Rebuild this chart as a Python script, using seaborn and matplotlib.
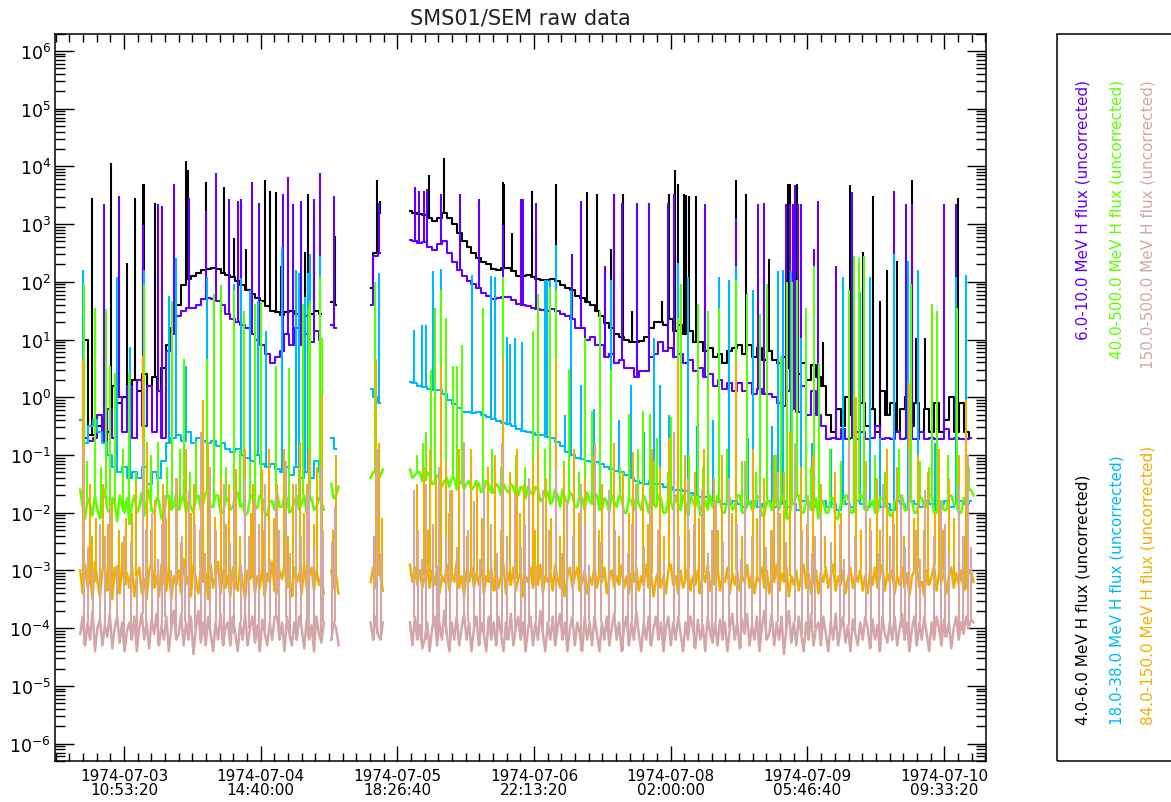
import numpy as np
import pandas as pd
import matplotlib
matplotlib.use("Agg")
import matplotlib.pyplot as plt
import seaborn as sns
from matplotlib.patches import Rectangle
from matplotlib.ticker import FixedLocator, LogLocator, NullFormatter

nan = float("nan")
GAP10, GAP12 = [nan] * 10, [nan] * 12

# ---------------------------------------------------------------- data
# time axis: hours after 1974-07-03 00:00 UT; values are log10(flux); nan = gap
START_HOUR = 2.0
STEP_SLOW = 1.0    # 4-6, 6-10, 18-38 MeV channels: hourly samples
STEP_FAST = 0.5    # 40-500, 84-150, 150-500 MeV channels: half-hourly samples

FLUX_4_6 = [
    nan, 1.0, -0.65, -0.65, -0.5, -0.4, -0.6, 0.2, -0.1, 0.0,
    -0.2, 0.3, 0.1, 0.4, 0.2, 0.35, 0.1, 0.5, 0.9, 1.2,
    1.6, 1.95, 2.05, 2.1, 2.15, 2.2, 2.22, 2.24, 2.22, 2.15,
    2.12, 2.08, 2.02, 1.95, 1.86, 1.78, 1.72, 1.67, 1.58, 1.5,
    1.47, 1.42, 1.47, 1.5, 1.45, 1.38, 1.4, 1.45, 1.5, 1.45,
    nan, 1.65, 1.6, nan, nan, nan, nan, nan, nan, 1.9,
    2.5, 3.2, nan, nan, nan, nan, nan, 3.22, 3.2, 3.18,
    3.15, 3.1, 3.05, 3.1, 3.2, 3.1, 3.0, 2.85, 2.7, 2.6,
    2.5, 2.42, 2.35, 2.3, 2.22, 2.2, 2.24, 2.24, 2.18, 2.1,
    2.1, 2.12, 2.08, 2.05, 2.03, 2.03, 2.05, 2.02, 1.95, 1.9,
    1.85, 1.75, 1.72, 1.65, 1.6, 1.5, 1.4, 1.28, 1.2, 1.1,
    1.05, 1.0, 0.95, 0.95, 0.98, 1.05, 1.2, 1.3, 1.3, 1.25,
    1.35, 1.15, 1.25, 1.1, 1.15, 0.95, 0.95, 0.8, 0.85, 0.7,
    0.75, 0.6, 0.8, 0.85, 0.9, 0.75, 0.9, 0.7, 0.85, 0.65,
    0.8, 0.65, 0.6, 0.7, 0.5, 0.65, 0.4, 0.6, 0.3, 0.55,
    0.35, 0.2, -0.3, -0.6, -0.2, -0.5, 0.0, -0.3, -0.6, -0.1,
    -0.5, -0.2, -0.6, 0.1, -0.3, -0.1, -0.6, -0.2, 0.0, -0.5,
    -0.1, -0.6, -0.2, -0.6, -0.1, -0.6, -0.4, 0.0, -0.6, -0.1,
    -0.6, -0.7,
]
FLUX_6_10 = [
    -0.4, -0.7, -0.75, -0.7, -0.3, -0.75, -0.2, -0.7, 0.0, -0.6,
    0.2, -0.7, 0.3, -0.5, 0.2, -0.6, 0.1, -0.7, 0.8, 1.1,
    1.4, 1.5, 1.55, 1.55, 1.6, 1.7, 1.72, 1.7, 1.67, 1.6,
    1.45, 1.35, 1.3, 1.25, 1.2, 1.1, 1.0, 0.9, 0.75, 0.6,
    0.7, 0.8, 1.1, 0.9, 1.2, 0.9, 1.1, 0.95, 1.15, 1.0,
    nan, 1.25, 1.2, nan, nan, nan, nan, nan, nan, 1.6,
    2.45, 2.5, nan, nan, nan, nan, nan, 2.72, 2.7, 2.68,
    2.69, 2.6, 2.55, 2.65, 2.7, 2.5, 2.35, 2.2, 2.1, 2.02,
    1.97, 1.9, 1.8, 1.75, 1.7, 1.72, 1.73, 1.73, 1.68, 1.62,
    1.6, 1.58, 1.55, 1.53, 1.52, 1.5, 1.53, 1.5, 1.45, 1.4,
    1.35, 1.2, 1.2, 1.0, 1.05, 0.9, 0.9, 0.7, 0.75, 0.6,
    0.65, 0.5, 0.5, 0.35, 0.45, 0.45, 0.7, 0.75, 0.95, 0.8,
    0.85, 0.7, 0.75, 0.6, 0.65, 0.45, 0.5, 0.35, 0.4, 0.2,
    0.3, 0.15, 0.25, 0.1, 0.25, 0.1, 0.25, 0.05, 0.15, 0.05,
    0.05, 0.0, -0.1, -0.15, 0.1, -0.2, -0.25, 0.2, -0.3, 0.1,
    -0.3, -0.5, -0.72, -0.7, -0.72, -0.55, -0.72, -0.7, -0.72, -0.6,
    -0.72, -0.7, -0.5, -0.72, -0.7, -0.72, -0.6, -0.72, -0.7, -0.72,
    -0.72, -0.6, -0.72, -0.7, -0.72, -0.72, -0.55, -0.72, -0.7, -0.72,
    -0.72, -0.7,
]
FLUX_18_38 = [
    -0.4, -0.8, -0.5, -0.4, -0.6, -0.8, -1.0, -1.2, -1.3, -1.2,
    -1.4, -1.3, -1.4, -1.2, -1.5, -1.3, -1.4, -1.1, -0.8, -0.7,
    -0.65, -0.75, -0.6, -0.8, -0.7, -0.75, -0.8, -0.75, -0.85, -0.8,
    -0.9, -0.95, -0.9, -1.0, -1.05, -1.1, -1.0, -1.15, -1.2, -1.15,
    -1.25, -1.3, -1.2, -1.35, -1.2, -1.4, -1.3, -1.4, -1.1, -1.3,
    nan, -0.7, -0.9, nan, nan, nan, nan, nan, nan, 0.15,
    0.0, -0.1, nan, nan, nan, nan, nan, 0.27, 0.25, 0.2,
    0.18, 0.15, 0.12, 0.12, 0.05, -0.05, -0.12, -0.18, -0.25, -0.26,
    -0.27, -0.26, -0.3, -0.35, -0.38, -0.42, -0.45, -0.47, -0.5, -0.55,
    -0.58, -0.6, -0.62, -0.65, -0.66, -0.68, -0.7, -0.77, -0.85, -0.95,
    -1.0, -1.05, -1.07, -1.1, -1.12, -1.13, -1.15, -1.2, -1.25, -1.28,
    -1.3, -1.35, -1.4, -1.45, -1.48, -1.5, -1.45, -1.5, -1.5, -1.55,
    -1.55, -1.6, -1.6, -1.62, -1.65, -1.7, -1.72, -1.72, -1.75, -1.8,
    -1.82, -1.85, -1.85, -1.8, -1.85, -1.9, -1.85, -1.8, -1.9, -1.85,
    -1.8, -1.9, -1.85, -1.8, -1.9, -1.85, -1.95, -1.8, -1.85, -1.9,
    -1.85, -1.8, -1.9, -1.85, -1.95, -1.8, -1.85, -1.9, -1.8, -1.85,
    -1.9, -1.85, -1.8, -1.9, -1.85, -1.95, -1.8, -1.85, -1.9, -1.8,
    -1.85, -1.9, -1.8, -1.85, -1.95, -1.85, -1.8, -1.9, -1.85, -1.8,
    -1.85, -1.8,
]
FLUX_40_500 = [
    -1.6, -1.9, -2.1, -1.75, -1.85, -2.05, -1.7, -1.95, -2.1, -1.8, -1.6, -1.95, -2.0, -1.75, -1.85, -2.15, -1.7, -1.9, -2.0, -1.75,
    -2.2, -1.85, -1.7, -2.0, -1.9, -1.65, -2.05, -1.8, -1.6, -1.95, -2.0, -1.75, -1.8, -2.1, -2.05, -1.75, -1.7, -1.95, -1.9, -1.65,
    -1.95, -1.8, -1.7, -2.0, -1.8, -1.9, -2.0, -1.75, -1.7, -1.95, -1.85, -1.65, -1.6, -1.9, -1.9, -1.7, -1.7, -2.0, -2.0, -1.8,
    -1.75, -1.95, -1.9, -1.7, -1.65, -1.9, -1.85, -2.05, -2.0, -1.75, -1.7, -1.95, -1.9, -1.7, -1.75, -2.0, -2.05, -1.8, -1.8, -1.95,
    -1.65, -1.9, -1.9, -1.7, -1.75, -2.0, -1.95, -1.8, -1.7, -1.95, -1.85, -1.7, -2.0, -1.8, -1.75, -1.95, -1.9, -1.75, -1.8, -1.95,
    nan, nan, -1.5, -1.75, -1.7, -1.55, *GAP12, -1.4, -1.3,
    -1.3, -1.45, -1.35, -1.25, *GAP10, -1.25, -1.4, -1.35, -1.3, -1.3, -1.45,
    -1.45, -1.3, -1.35, -1.5, -1.5, -1.35, -1.4, -1.55, -1.45, -1.4, -1.55, -1.4, -1.4, -1.6, -1.5, -1.45, -1.6, -1.5, -1.45, -1.6,
    -1.55, -1.45, -1.5, -1.65, -1.6, -1.45, -1.5, -1.65, -1.65, -1.5, -1.55, -1.7, -1.5, -1.6, -1.65, -1.5, -1.55, -1.7, -1.7, -1.55,
    -1.6, -1.75, -1.55, -1.65, -1.7, -1.55, -1.6, -1.8, -1.75, -1.6, -1.65, -1.85, -1.8, -1.6, -1.7, -1.9, -1.6, -1.75, -1.85, -1.65,
    -1.7, -1.9, -1.9, -1.7, -1.75, -1.95, -1.65, -1.8, -1.85, -1.65, -1.7, -1.95, -1.95, -1.75, -1.8, -2.0, -1.7, -1.8, -1.9, -1.7,
    -1.75, -2.0, -2.0, -1.75, -1.8, -1.95, -1.7, -1.85, -1.95, -1.7, -1.8, -2.0, -1.7, -1.85, -1.9, -1.7, -1.75, -2.0, -2.0, -1.75,
    -1.8, -1.95, -1.7, -1.85, -1.95, -1.7, -1.85, -2.05, -1.7, -1.8, -1.9, -1.7, -2.05, -1.8, -1.8, -1.95, -1.7, -1.9, -1.95, -1.7,
    -1.8, -2.0, -2.0, -1.75, -1.75, -1.95, -1.9, -1.7, -1.7, -2.0, -2.0, -1.8, -1.8, -1.95, -1.9, -1.7, -1.75, -2.05, -2.05, -1.8,
    -1.8, -1.95, -1.7, -1.85, -1.95, -1.7, -1.8, -2.1, -2.1, -1.85, -1.85, -1.7, -1.7, -2.0, -2.0, -1.8, -1.8, -1.95, -1.95, -1.75,
    -2.1, -1.85, -1.8, -2.0, -2.0, -1.75, -1.75, -2.1, -2.1, -1.85, -1.85, -1.7, -1.7, -2.0, -2.0, -1.8, -1.8, -1.7, -1.7, -1.95,
    -1.95, -1.8, -1.8, -2.0, -2.0, -1.75, -1.75, -1.9, -1.9, -2.05, -2.05, -1.8, -1.8, -1.7, -1.7, -1.95, -1.95, -1.8, -1.8, -2.0,
    -2.0, -1.75, -1.75, -1.9, -1.9, -1.7, -1.7, -2.0, -2.0, -1.8, -1.8, -1.95, -1.95, -1.7, -1.7, -1.85, -1.85, -2.0, -2.0, -1.75,
    -1.75, -1.6, -1.6, -1.7,
]
FLUX_84_150 = [
    -3.0, -3.4, -2.9, -3.3, -3.1, -3.5, -2.85, -3.2, -3.45, -3.0, -2.9, -3.35, -3.1, -3.5, -2.95, -3.2, -3.4, -2.9, -3.25, -3.05,
    -3.3, -2.9, -3.45, -3.1, -2.95, -3.4, -3.15, -3.5, -3.0, -2.85, -3.3, -3.1, -3.45, -2.9, -3.2, -3.35, -2.95, -3.5, -3.1, -3.25,
    -3.0, -3.4, -2.8, -3.25, -3.1, -3.45, -2.9, -3.15, -3.4, -2.95, -3.2, -3.05, -3.5, -2.9, -3.3, -3.1, -2.85, -3.4, -3.0, -3.3,
    -3.1, -3.45, -2.95, -3.25, -3.35, -2.9, -3.2, -3.5, -3.0, -3.15, -2.9, -3.4, -3.1, -3.3, -2.95, -3.45, -3.05, -3.2, -2.85, -3.35,
    -3.4, -3.0, -3.15, -2.9, -3.3, -3.1, -3.45, -2.95, -3.2, -3.05, -3.4, -2.9, -3.3, -3.1, -2.95, -3.35, -3.0, -3.25, -3.1, -3.4,
    nan, nan, -3.0, -3.3, -3.1, -3.4, *GAP12, -3.2, -2.95,
    -3.3, -2.9, -3.1, -3.35, *GAP10, -2.9, -3.2, -2.95, -3.25, -3.0, -3.3,
    -3.1, -2.9, -3.3, -3.0, -3.25, -2.95, -3.4, -3.1, -3.2, -2.9, -3.35, -3.05, -3.2, -2.85, -3.3, -3.1, -3.45, -3.0, -3.2, -2.95,
    -3.3, -3.05, -3.25, -2.9, -3.4, -3.1, -3.2, -2.95, -3.35, -3.0, -3.3, -3.1, -2.9, -3.4, -3.05, -3.25, -2.95, -3.35, -3.15, -3.0,
    -3.45, -3.1, -3.2, -2.95, -3.3, -3.05, -3.25, -2.9, -3.4, -3.1, -3.2, -3.0, -3.35, -2.9, -3.15, -3.3, -3.0, -3.45, -3.1, -2.95,
    -3.3, -3.1, -2.95, -3.35, -3.2, -3.0, -3.4, -3.1, -3.25, -2.9, -3.3, -3.05, -3.2, -2.95, -3.4, -3.15, -3.0, -3.3, -3.1, -3.25,
    -2.9, -3.3, -3.1, -3.4, -3.05, -3.2, -2.95, -3.35, -3.1, -3.25, -2.9, -3.3, -3.05, -3.45, -3.15, -3.0, -3.3, -3.1, -3.4, -3.0,
    -2.9, -3.25, -3.1, -3.4, -3.0, -3.3, -3.15, -2.95, -3.35, -3.1, -3.25, -3.0, -3.4, -3.05, -3.2, -2.9, -3.35, -3.1, -3.25, -2.95,
    -3.35, -3.1, -3.2, -2.95, -3.4, -3.05, -3.25, -3.0, -3.35, -3.1, -3.2, -2.9, -3.3, -3.05, -3.4, -3.1, -3.2, -2.95, -3.3, -3.0,
    -3.4, -3.1, -3.2, -2.9, -3.35, -3.05, -3.2, -2.95, -3.45, -3.1, -3.25, -3.0, -3.35, -3.1, -2.9, -3.3, -3.05, -3.4, -3.15, -3.0,
    -3.4, -3.05, -3.2, -2.95, -3.3, -3.1, -2.9, -3.35, -3.1, -3.25, -3.0, -3.4, -3.15, -2.95, -3.3, -3.05, -3.2, -3.0, -3.35, -3.1,
    -3.4, -3.0, -3.25, -2.95, -3.3, -3.1, -2.9, -3.35, -3.05, -3.2, -3.0, -3.4, -3.1, -3.25, -2.95, -3.3, -3.05, -3.45, -3.1, -3.0,
    -2.95, -3.3, -3.2, -3.45, -3.0, -3.25, -3.1, -2.9, -3.35, -3.05, -3.2, -3.0, -3.4, -3.1, -2.95, -3.3, -3.05, -3.25, -3.0, -3.35,
    -3.3, -3.05, -3.0, -3.2,
]
FLUX_150_500 = [
    -4.1, -3.8, -4.3, -3.9, -4.2, -3.7, -4.4, -4.0, -3.85, -4.3, -3.95, -4.15, -3.75, -4.35, -4.0, -3.8, -4.25, -3.9, -4.4, -4.05,
    -3.9, -4.2, -3.8, -4.4, -4.0, -3.75, -4.2, -3.9, -4.35, -3.85, -4.1, -3.75, -4.3, -3.95, -4.2, -3.8, -4.4, -4.0, -3.7, -4.2,
    -4.1, -3.75, -4.3, -3.9, -4.2, -3.8, -4.45, -4.0, -3.7, -4.25, -3.9, -4.3, -3.8, -4.1, -4.4, -3.9, -4.2, -3.75, -4.3, -4.0,
    -3.9, -4.3, -3.8, -4.1, -4.4, -3.9, -4.2, -3.75, -4.3, -4.0, -3.8, -4.25, -3.95, -4.4, -3.85, -4.1, -4.3, -3.9, -4.2, -3.8,
    -3.8, -4.2, -3.9, -4.4, -3.8, -4.1, -4.3, -3.9, -4.2, -3.8, -4.0, -4.35, -3.85, -4.2, -3.95, -4.4, -3.8, -4.1, -4.25, -3.9,
    nan, nan, -4.2, -3.9, -4.0, -4.3, *GAP12, -3.9, -4.2,
    -3.8, -4.1, -4.2, -3.9, *GAP10, -3.9, -4.3, -3.8, -4.2, -3.95, -4.35,
    -4.2, -3.9, -4.4, -4.0, -3.8, -4.3, -3.9, -4.2, -3.7, -4.1, -4.4, -3.9, -4.2, -3.8, -4.3, -4.0, -3.75, -4.2, -3.9, -4.4,
    -4.0, -3.8, -4.3, -3.9, -4.1, -4.4, -3.8, -4.2, -3.9, -4.3, -3.8, -4.1, -4.4, -3.9, -4.2, -3.75, -4.3, -4.0, -3.8, -4.2,
    -3.9, -4.4, -4.0, -3.8, -4.3, -3.9, -4.2, -3.7, -4.1, -4.4, -3.9, -4.2, -3.8, -4.3, -4.0, -3.75, -4.2, -3.9, -4.4, -4.0,
    -3.8, -4.3, -3.9, -4.1, -4.4, -3.8, -4.2, -3.9, -4.3, -3.8, -4.1, -4.4, -3.9, -4.2, -3.8, -4.3, -4.0, -3.75, -4.2, -3.9,
    -4.4, -4.0, -3.8, -4.3, -3.9, -4.2, -3.7, -4.1, -4.4, -3.9, -4.2, -3.8, -4.3, -4.0, -3.8, -4.2, -3.9, -4.4, -4.0, -3.8,
    -4.3, -3.9, -4.2, -3.8, -4.1, -4.4, -3.9, -4.2, -3.8, -4.0, -4.35, -3.85, -4.2, -3.95, -4.4, -3.8, -4.1, -4.25, -3.9, -4.3,
    -3.85, -4.2, -3.9, -4.4, -4.0, -3.75, -4.2, -3.9, -4.35, -3.85, -4.1, -3.75, -4.3, -3.95, -4.2, -3.8, -4.4, -4.0, -3.7, -4.2,
    -4.1, -3.75, -4.3, -3.9, -4.2, -3.8, -4.45, -4.0, -3.7, -4.25, -3.9, -4.3, -3.8, -4.1, -4.4, -3.9, -4.2, -3.75, -4.3, -4.0,
    -3.9, -4.3, -3.8, -4.1, -4.4, -3.9, -4.2, -3.75, -4.3, -4.0, -3.8, -4.25, -3.95, -4.4, -3.85, -4.1, -4.3, -3.9, -4.2, -3.8,
    -4.0, -4.35, -3.85, -4.2, -3.95, -4.4, -3.8, -4.1, -4.25, -3.9, -4.2, -3.8, -4.3, -4.0, -3.75, -4.2, -3.9, -4.4, -4.0, -3.8,
    -4.3, -3.9, -4.2, -3.8, -4.1, -4.4, -3.9, -4.2, -3.8, -4.0, -4.3, -3.85, -4.15, -3.9, -4.35, -4.0, -3.8, -4.2, -3.9, -4.1,
    -3.8, -4.0, -3.85, -3.9,
]

# short spikes: (hour, log10 of spike top)
SPIKES_4_6 = [
    (4.4, 3.46), (8.3, 4.06), (11.6, 2.33), (13.1, 3.46), (14.7, 3.7), (14.9, 3.7),
    (17.2, 3.37), (23.5, 4.09), (23.8, 3.94), (27.5, 3.73), (31.2, 3.64), (33.3, 2.75),
    (35.7, 2.57), (39.6, 3.76), (40.6, 3.57), (41.7, 3.55), (42.7, 2.27), (47.6, 2.51),
    (48.3, 3.52), (49.5, 3.1), (53.7, 2.8), (62.4, 3.76), (63.0, 3.4), (72.8, 3.85),
    (75.9, 4.15), (88.0, 3.73), (88.2, 3.7), (89.7, 2.84), (93.8, 3.58), (94.6, 2.8),
    (98.6, 3.7), (104.9, 3.55), (107.0, 3.52), (109.8, 2.57), (110.5, 3.52), (112.2, 3.52),
    (114.2, 1.5), (120.3, 1.67), (121.7, 3.52), (122.9, 3.93), (123.4, 3.7), (124.7, 3.52),
    (125.0, 3.5), (125.7, 3.49), (127.1, 3.49), (135.3, 3.76), (137.3, 3.52), (142.0, 2.39),
    (145.9, 3.7), (146.3, 3.7), (147.6, 3.7), (152.9, 0.96), (158.5, 3.67), (161.0, 2.51),
    (163.0, 3.49), (164.5, 1.67), (165.9, 2.21), (167.9, 2.36), (171.1, 3.76), (171.8, 1.03),
    (173.6, 1.02), (180.4, 3.46),
]
SPIKES_6_10 = [
    (6.9, 3.34), (9.8, 3.49), (14.7, 2.99), (17.9, 3.34), (18.7, 3.31), (21.0, 3.7),
    (24.2, 3.46), (27.5, 3.22), (29.5, 3.88), (32.2, 3.43), (34.0, 3.4), (34.7, 3.43),
    (36.9, 3.73), (38.4, 3.37), (43.1, 3.52), (44.3, 3.82), (45.2, 3.34), (46.9, 3.4),
    (49.5, 3.43), (50.7, 3.88), (53.5, 3.49), (62.8, 3.37), (70.0, 3.64), (70.8, 3.58),
    (71.9, 3.58), (72.4, 3.61), (75.4, 3.52), (79.1, 3.52), (83.1, 3.43), (88.0, 2.99),
    (91.5, 3.43), (92.0, 3.43), (94.6, 3.37), (101.9, 2.48), (103.7, 3.4), (108.7, 2.27),
    (110.5, 3.52), (112.1, 3.37), (115.2, 3.37), (117.5, 3.37), (121.5, 3.37), (122.7, 3.52),
    (128.9, 3.34), (135.2, 3.1), (139.7, 3.34), (140.9, 3.37), (145.5, 3.34), (146.2, 3.34),
    (146.8, 3.34), (147.2, 3.67), (147.8, 3.34), (148.4, 3.34), (151.0, 2.57), (151.9, 3.4),
    (155.5, 2.27), (158.9, 3.55), (167.3, 3.58), (169.7, 3.34), (171.1, 3.34), (172.2, 2.21),
    (177.5, 3.34), (180.0, 3.34),
]
SPIKES_18_38 = [
    (2.6, 2.2), (9.5, 2.09), (12.1, 0.87), (14.9, 2.21), (20.0, 1.76), (21.5, 2.42),
    (23.5, 0.54), (27.7, 2.09), (33.3, 1.97), (34.7, 2.06), (36.4, 1.85), (38.2, 1.67),
    (39.7, 1.14), (42.9, 2.6), (45.9, 2.21), (46.5, 2.15), (47.7, 1.73), (48.3, 2.15),
    (48.7, 2.48), (50.7, 2.45), (62.8, 2.15), (69.8, 1.17), (71.5, 1.26), (72.2, 1.26),
    (73.6, 2.18), (75.4, 2.22), (78.5, 0.21), (81.7, 2.12), (85.5, 2.1), (86.2, 2.09),
    (88.7, 1.05), (89.4, 0.93), (90.4, 1.03), (91.8, 0.96), (96.4, 2.03), (96.9, 2.03),
    (97.4, 2.03), (98.6, 2.63), (101.7, 1.85), (103.8, 0.21), (109.8, 2.03), (114.0, 0.21),
    (118.5, 1.02), (119.9, 0.21), (123.4, 2.33), (125.5, 2.09), (131.7, 2.09), (133.8, 2.03),
    (135.3, 2.27), (138.8, 1.85), (140.2, 0.66), (143.7, 2.18), (144.9, 2.21), (146.5, 2.18),
    (148.4, 1.02), (156.9, 2.09), (160.4, 1.82), (162.4, 2.09), (167.3, 2.48), (170.2, 2.36),
    (172.2, 2.21), (179.9, 2.09), (182.0, 2.12),
    (100.6, -0.3), (104.6, -0.5), (106.4, -0.2), (111.4, -0.4), (116.6, -0.6), (121.6, -0.3),
    (127.4, -0.5), (130.6, -0.4), (137.6, -0.7), (142.6, -0.5), (150.6, -0.8), (154.6, -0.9),
    (164.6, -0.7), (175.6, -0.8),
]
SPIKES_40_500 = [
    (2.7, 1.97), (4.9, 1.55), (7.2, 1.53), (8.1, 0.54), (9.1, 0.42), (11.9, 0.42),
    (14.9, 1.97), (17.9, -0.77), (20.7, 1.67), (23.1, 0.66), (25.6, -0.77), (27.7, 0.66),
    (29.1, 1.79), (30.5, 1.94), (33.3, 1.85), (35.2, 1.5), (37.5, 1.61), (38.7, 1.67),
    (41.7, 0.54), (44.5, 0.51), (47.3, 1.61), (48.4, 1.55), (48.7, 1.67), (50.7, 2.09),
    (51.2, 1.02), (61.9, 2.0), (72.2, -0.6), (73.3, 0.48), (74.0, 1.55), (75.4, 1.85),
    (76.4, 1.37), (77.8, 0.54), (78.5, 0.54), (79.6, 0.9), (83.8, 1.55), (88.0, 2.09),
    (93.9, 1.14), (95.0, 1.79), (97.4, 1.91), (98.6, 1.85), (101.4, 0.48), (104.5, 1.02),
    (105.9, -0.23), (107.7, 1.5), (109.8, 0.48), (113.6, -0.29), (116.4, -0.23), (117.7, -0.29),
    (119.2, -0.71), (122.0, -0.35), (123.4, 1.37), (124.1, 1.97), (127.6, 1.61), (129.6, 1.5),
    (131.8, 1.55), (135.3, 2.03), (137.4, 1.79), (140.2, 1.44), (141.6, 1.97), (144.4, 0.72),
    (145.6, 2.0), (146.6, 2.0), (147.6, 2.03), (149.4, 1.55), (151.2, 2.27), (152.2, 0.6),
    (158.2, 1.85), (159.2, 2.45), (160.3, 2.42), (161.3, 2.45), (170.8, 1.97), (175.0, 1.61),
    (176.0, 1.5), (180.2, 1.55),
    (3.4, -1.1), (6.2, -1.2), (10.6, -0.9), (13.4, -1.3), (16.4, -1.0), (19.6, -1.2),
    (22.2, -0.9), (24.4, -1.3), (26.6, -1.0), (31.6, -1.2), (34.4, -0.9), (36.4, -1.1),
    (40.4, -1.3), (43.4, -1.0), (46.4, -1.2), (70.4, -1.0), (71.6, -0.8), (81.4, -1.0),
    (85.6, -0.9), (87.4, -1.2), (90.6, -1.0), (92.4, -1.2), (96.4, -0.9), (100.4, -1.1),
    (103.4, -1.3), (106.6, -1.0), (111.6, -1.2), (115.4, -0.9), (118.6, -1.1), (121.4, -1.3),
    (125.6, -1.0), (128.6, -1.2), (133.4, -0.9), (136.4, -1.1), (139.4, -1.3), (143.4, -1.0),
    (150.4, -1.2), (154.4, -0.9), (156.6, -1.1), (163.4, -1.0), (165.6, -1.3), (168.4, -0.9),
    (172.6, -1.1), (174.4, -1.2), (178.4, -1.0), (182.6, -1.2),
]
SPIKES_84_150 = [
    (2.6, 0.66), (3.9, -1.5), (5.3, -2.1), (6.7, -1.5), (8.4, -1.8), (9.8, -2.3),
    (11.2, -2.1), (13.3, -1.5), (14.7, 0.72), (15.6, -0.77), (17.2, -1.78), (18.9, -1.5),
    (20.0, -1.78), (21.7, -1.4), (23.5, -0.89), (25.2, -1.5), (27.0, -0.05), (28.0, -0.77),
    (29.4, -2.08), (30.5, -1.4), (32.2, -1.5), (33.6, -1.25), (35.4, -0.89), (37.1, -1.5),
    (38.9, -1.25), (40.3, -0.89), (42.0, -1.5), (43.4, -0.89), (45.2, -1.5), (46.6, -0.77),
    (48.0, -1.5), (48.4, -0.9), (50.2, -1.2), (51.2, 0.06), (53.9, -1.0), (62.1, 0.66),
    (62.8, -0.8), (70.5, -1.5), (71.9, -1.2), (73.1, -0.9), (74.3, -1.4), (75.4, 0.54),
    (76.4, -1.1), (77.5, -1.6), (78.9, -0.9), (79.9, -1.3), (81.3, -0.9), (82.7, -1.5),
    (84.8, -1.2), (86.2, -1.0), (88.0, 0.66), (89.4, -1.3), (90.8, -0.9), (92.2, -1.5),
    (93.9, -1.1), (95.0, -0.9), (96.7, -1.4), (98.6, 0.66), (100.3, -1.2), (102.4, -0.9),
    (104.5, -1.4), (106.3, -1.0), (108.0, -1.5), (110.5, -0.8), (112.2, -1.3), (114.3, -0.95),
    (116.4, -1.5), (118.2, -0.9), (119.9, -1.2), (121.7, -0.7), (123.4, 0.66), (124.8, -1.0),
    (126.9, -1.3), (128.7, -0.9), (130.8, -1.4), (132.5, -1.0), (135.3, 0.66), (137.1, -1.2),
    (138.8, -0.9), (140.9, -1.4), (143.0, -1.0), (145.1, -1.3), (146.3, -0.6), (147.2, -0.9),
    (148.4, -1.2), (150.8, -1.0), (152.6, -1.5), (155.4, -1.3), (158.2, -0.9), (159.6, 0.0),
    (161.7, -1.1), (163.8, -1.4), (165.9, -0.9), (168.0, -1.2), (170.4, 0.24), (172.2, -1.0),
    (174.3, -1.3), (176.4, -0.9), (178.5, -1.4), (180.6, -1.0), (182.0, -0.05),
    (4.3, -2.4), (7.6, -2.2), (10.4, -2.5), (12.6, -2.0), (16.3, -2.3), (19.4, -2.1),
    (22.4, -2.5), (24.6, -2.0), (26.4, -2.3), (31.6, -2.2), (34.4, -2.4), (36.6, -2.0),
    (39.4, -2.3), (41.4, -2.1), (44.2, -2.4), (47.4, -2.0), (49.4, -2.2), (53.4, -2.3),
    (63.4, -2.1), (72.6, -2.3), (77.0, -2.0), (80.6, -2.4), (83.6, -2.1), (87.4, -2.3),
    (91.4, -2.0), (94.4, -2.3), (97.6, -2.1), (99.4, -2.4), (103.4, -2.0), (107.4, -2.3),
    (109.4, -2.1), (111.4, -2.4), (113.6, -2.0), (117.4, -2.2), (120.6, -2.4), (122.6, -2.0),
    (125.6, -2.3), (127.8, -2.1), (131.6, -2.3), (134.4, -2.0), (136.4, -2.4), (139.6, -2.1),
    (142.4, -2.3), (144.2, -2.0), (149.6, -2.2), (153.4, -2.4), (156.6, -2.0), (160.6, -2.3),
    (162.4, -2.1), (164.6, -2.3), (167.2, -2.0), (169.4, -2.4), (171.4, -2.1), (173.4, -2.3),
    (175.6, -2.0), (177.4, -2.3), (179.6, -2.1), (181.6, -2.4),
]
SPIKES_150_500 = [
    (2.8, -0.83), (6.0, -2.2), (8.1, -1.9), (10.9, -2.4), (14.7, -0.8), (16.5, -2.0),
    (19.3, -1.7), (21.4, -1.4), (24.2, -1.6), (26.6, -0.6), (28.4, -1.2), (31.2, -1.5),
    (33.3, -1.6), (35.4, -1.4), (37.5, -1.8), (39.6, -1.5), (41.7, -1.6), (43.8, -1.1),
    (45.9, -1.5), (48.0, -1.7), (48.4, -1.5), (50.9, -1.2), (53.7, -1.9), (62.3, -0.9),
    (69.8, -1.6), (72.2, -1.5), (75.0, -1.2), (77.1, -1.6), (79.9, -0.77), (82.0, -1.8),
    (84.1, -1.5), (87.6, -0.8), (90.4, -1.7), (93.2, -1.4), (96.0, -1.6), (98.6, -1.2),
    (101.0, -1.8), (103.8, -1.5), (106.6, -0.8), (109.4, -1.6), (112.2, -1.9), (115.0, -1.5),
    (117.8, -1.7), (122.7, -0.6), (125.5, -1.4), (128.3, -1.6), (131.1, -1.8), (133.9, -1.4),
    (137.1, -1.1), (140.2, -1.6), (143.7, -1.3), (147.2, -0.8), (149.8, -1.7), (152.6, -2.0),
    (158.2, -0.8), (161.7, -1.6), (165.2, -1.5), (168.7, -1.7), (170.4, -0.9), (173.6, -1.6),
    (176.9, -1.8), (180.6, -1.5), (182.3, -1.0),
    (3.5, -2.6), (4.6, -3.0), (7.1, -2.4), (9.4, -2.9), (12.3, -2.5), (13.6, -3.1),
    (15.4, -2.3), (17.8, -2.8), (18.6, -2.2), (20.4, -3.0), (22.6, -2.4), (23.3, -2.9),
    (25.4, -2.2), (27.4, -2.7), (29.6, -2.3), (30.4, -3.0), (32.4, -2.5), (34.6, -2.9),
    (36.3, -2.4), (38.4, -2.2), (40.6, -2.8), (42.4, -2.3), (44.6, -2.7), (46.8, -2.4),
    (49.6, -2.6), (51.4, -2.3), (53.2, -2.5), (61.6, -2.4), (63.2, -2.7), (70.6, -2.3),
    (71.4, -2.8), (73.6, -2.2), (74.4, -2.9), (76.3, -2.4), (78.6, -2.6), (80.8, -2.3),
    (83.2, -2.8), (85.4, -2.2), (86.6, -2.7), (88.8, -2.4), (91.6, -2.6), (92.4, -2.2),
    (94.6, -2.9), (97.2, -2.3), (99.8, -2.7), (102.2, -2.4), (104.6, -2.2), (105.4, -2.9),
    (107.8, -2.5), (110.6, -2.3), (113.4, -2.7), (114.2, -2.2), (116.6, -2.6), (119.4, -2.3),
    (120.6, -2.8), (123.6, -2.4), (126.8, -2.2), (129.6, -2.7), (130.4, -2.3), (132.6, -2.5),
    (135.4, -2.2), (136.2, -2.8), (138.6, -2.4), (141.4, -2.6), (142.6, -2.3), (145.4, -2.5),
    (148.6, -2.3), (150.6, -2.7), (151.4, -2.4), (154.6, -2.5), (156.4, -2.2), (157.2, -2.8),
    (159.4, -2.4), (162.6, -2.3), (164.4, -2.7), (166.6, -2.4), (167.4, -2.2), (169.6, -2.6),
    (171.8, -2.3), (172.6, -2.8), (175.4, -2.4), (177.8, -2.2), (178.6, -2.7), (181.4, -2.4),
    (183.0, -2.6),
]

CHANNELS = [
    "4.0-6.0 MeV H flux (uncorrected)",
    "6.0-10.0 MeV H flux (uncorrected)",
    "18.0-38.0 MeV H flux (uncorrected)",
    "40.0-500.0 MeV H flux (uncorrected)",
    "84.0-150.0 MeV H flux (uncorrected)",
    "150.0-500.0 MeV H flux (uncorrected)",
]
COLORS = ["#000000", "#6000ff", "#00b8ff", "#5cff00", "#f0b000", "#d4a6a6"]

TICK_HOURS = [10.8889, 38.6667, 66.4444, 94.2222, 122.0, 149.7778, 177.5556]
TICK_LABELS = [
    "1974-07-03\n10:53:20", "1974-07-04\n14:40:00", "1974-07-05\n18:26:40",
    "1974-07-06\n22:13:20", "1974-07-08\n02:00:00", "1974-07-09\n05:46:40",
    "1974-07-10\n09:33:20",
]
Y_DECADES = list(range(-6, 7))

TITLE = "SMS01/SEM raw data"

# ---------------------------------------------------------------- style
plt.rcParams["font.family"] = ["DejaVu Sans"]
plt.rcParams["mathtext.fontset"] = "dejavusans"

W, H = 1171, 803
fig = plt.figure(figsize=(W / 100, H / 100), dpi=100)
ax_l, ax_r, ax_t, ax_b = 55, 986, 34.5, 762
ax = fig.add_axes([ax_l / W, 1 - ax_b / H, (ax_r - ax_l) / W, (ax_b - ax_t) / H])
ax.set_yscale("log")

series = [FLUX_4_6, FLUX_6_10, FLUX_18_38, FLUX_40_500, FLUX_84_150, FLUX_150_500]
steps = [STEP_SLOW, STEP_SLOW, STEP_SLOW, STEP_FAST, STEP_FAST, STEP_FAST]
styles = ["steps-mid", "steps-mid", "steps-mid", "default", "default", "default"]
line_w = [1.5, 1.5, 1.5, 1.8, 1.8, 1.8]
spikes = [SPIKES_4_6, SPIKES_6_10, SPIKES_18_38, SPIKES_40_500, SPIKES_84_150, SPIKES_150_500]

for k, (name, vals, step, ds, lw, spk, col) in enumerate(
        zip(CHANNELS, series, steps, styles, line_w, spikes, COLORS)):
    hours = START_HOUR + step * np.arange(len(vals))
    logv = np.array(vals, dtype=float)
    df = pd.DataFrame({"hour": hours, "logflux": logv})
    df["seg"] = np.cumsum(np.isnan(df["logflux"].to_numpy()))
    df = df.dropna()
    df["flux"] = 10.0 ** df["logflux"]
    sns.lineplot(data=df, x="hour", y="flux", units="seg", estimator=None,
                 color=col, lw=lw, drawstyle=ds, ax=ax, legend=False,
                 zorder=2 + k)
    base = {round(h / step): v for h, v in zip(hours.tolist(), logv.tolist())}
    xs, lo, hi = [], [], []
    for h, top in spk:
        b = base.get(round(h / step), nan)
        if np.isnan(b):
            continue
        xs.append(h)
        lo.append(10.0 ** b)
        hi.append(10.0 ** top)
    ax.vlines(xs, lo, hi, colors=col, lw=1.5, zorder=2 + k)

ax.set_xlim(-3.13, 186.05)
ax.set_ylim(5e-7, 2e6)
ax.set_xlabel("")
ax.set_ylabel("")

ax.xaxis.set_major_locator(FixedLocator(TICK_HOURS))
ax.set_xticklabels(TICK_LABELS, fontsize=11, linespacing=0.95)
minor_step = (TICK_HOURS[1] - TICK_HOURS[0]) / 10.0
ax.xaxis.set_minor_locator(FixedLocator(
    [TICK_HOURS[0] + i * minor_step for i in range(-6, 64)]))
ax.yaxis.set_major_locator(FixedLocator([10.0 ** d for d in Y_DECADES]))
ax.set_yticklabels([r"$10^{%d}$" % d for d in Y_DECADES], fontsize=12.5)
ax.yaxis.set_minor_locator(LogLocator(base=10, subs=range(2, 10), numticks=40))
ax.yaxis.set_minor_formatter(NullFormatter())

ax.tick_params(axis="both", which="both", direction="in", top=True, right=True,
               color="black", width=1.0)
ax.tick_params(axis="y", which="major", length=13.5, pad=3)
ax.tick_params(axis="y", which="minor", length=7.5)
ax.tick_params(axis="x", which="major", length=10.5, pad=5)
ax.tick_params(axis="x", which="minor", length=5.5)
for sp in ax.spines.values():
    sp.set_linewidth(1.1)
    sp.set_color("black")
ax.set_facecolor("white")
fig.patch.set_facecolor("white")

fig.text(((ax_l + ax_r) / 2) / W, 1 - 18 / H, TITLE, ha="center", va="center",
         fontsize=15, color="#222222")

# legend box at the right, texts rotated
fig.add_artist(Rectangle((1057 / W, 1 - 762 / H), 0.2, (762 - 35) / H,
                         transform=fig.transFigure, fill=False, ec="black",
                         lw=1.1, clip_on=False))
col_x = [1083.5, 1083.5, 1116.5, 1116.5, 1148, 1148]
for k, (name, col) in enumerate(zip(CHANNELS, COLORS)):
    if k % 2 == 0:   # lower row
        fig.text(col_x[k] / W, 1 - 725 / H, name, rotation=90, ha="center",
                 va="bottom", fontsize=11, color=col)
    else:            # upper row
        fig.text(col_x[k] / W, 1 - 80 / H, name, rotation=90, ha="center",
                 va="top", fontsize=11, color=col)

fig.savefig("out.png", dpi=100)
